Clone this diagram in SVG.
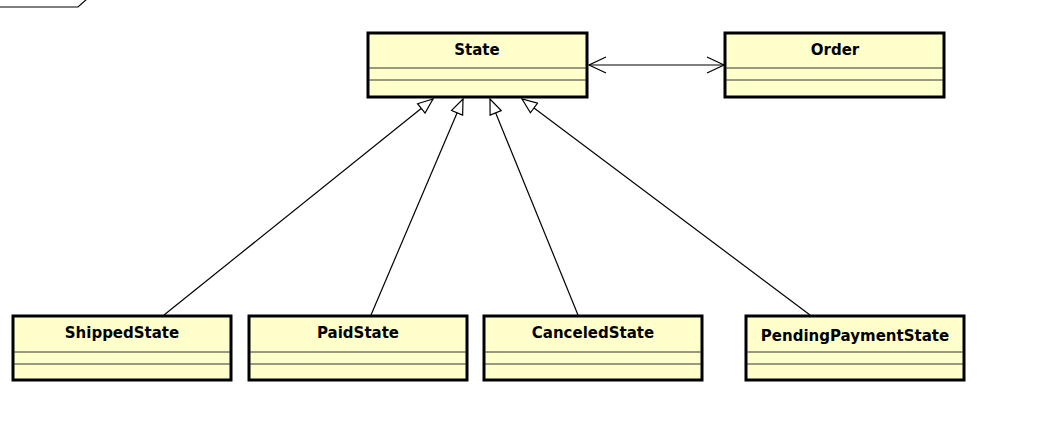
<svg xmlns="http://www.w3.org/2000/svg" width="1041" height="423" viewBox="0 0 1041 423">
<defs>
<style>
.box{fill:#FFFFCC;stroke:#000;stroke-width:3}
.sep{stroke:#333;stroke-width:1}
.lbl{font-family:"DejaVu Sans",Verdana,sans-serif;font-weight:bold;font-size:15px;text-anchor:middle;fill:#000}
.edge{stroke:#000;stroke-width:1.2;fill:none}
</style>
<marker id="tri" markerWidth="18" markerHeight="14" refX="16" refY="7" orient="auto" markerUnits="userSpaceOnUse">
<path d="M1,1 L16,7 L1,13 Z" fill="#fff" stroke="#000" stroke-width="1.2"/>
</marker>
<marker id="open" markerWidth="20" markerHeight="18" refX="18" refY="9" orient="auto" markerUnits="userSpaceOnUse">
<path d="M1,1 L18,9 L1,17" fill="none" stroke="#000" stroke-width="1.2"/>
</marker>
<marker id="openS" markerWidth="20" markerHeight="18" refX="2" refY="9" orient="auto" markerUnits="userSpaceOnUse">
<path d="M19,1 L2,9 L19,17" fill="none" stroke="#000" stroke-width="1.2"/>
</marker>
</defs>
<rect width="1041" height="423" fill="#fff"/>
<path d="M0,7 L78,7 L87,-1" fill="none" stroke="#000" stroke-width="1.2"/>
<g id="connectors">
<line class="edge" x1="164" y1="315" x2="433" y2="99" marker-end="url(#tri)"/>
<line class="edge" x1="371" y1="315" x2="463" y2="99" marker-end="url(#tri)"/>
<line class="edge" x1="578" y1="315" x2="490" y2="99" marker-end="url(#tri)"/>
<line class="edge" x1="810" y1="315" x2="522" y2="99" marker-end="url(#tri)"/>
<line class="edge" x1="589" y1="65" x2="724" y2="65" marker-start="url(#openS)" marker-end="url(#open)"/>
</g>
<g id="State">
<rect class="box" x="368" y="33" width="219" height="64"/>
<line class="sep" x1="369" y1="68" x2="586" y2="68"/>
<line class="sep" x1="369" y1="80" x2="586" y2="80"/>
<text class="lbl" x="477" y="55">State</text>
</g>
<g id="Order">
<rect class="box" x="725" y="33" width="219" height="64"/>
<line class="sep" x1="726" y1="68" x2="943" y2="68"/>
<line class="sep" x1="726" y1="80" x2="943" y2="80"/>
<text class="lbl" x="835" y="55">Order</text>
</g>
<g id="ShippedState">
<rect class="box" x="13" y="316" width="218" height="64"/>
<line class="sep" x1="14" y1="352" x2="230" y2="352"/>
<line class="sep" x1="14" y1="364" x2="230" y2="364"/>
<text class="lbl" x="122" y="338">ShippedState</text>
</g>
<g id="PaidState">
<rect class="box" x="249" y="316" width="218" height="64"/>
<line class="sep" x1="250" y1="352" x2="466" y2="352"/>
<line class="sep" x1="250" y1="364" x2="466" y2="364"/>
<text class="lbl" x="358" y="338">PaidState</text>
</g>
<g id="CanceledState">
<rect class="box" x="484" y="316" width="218" height="64"/>
<line class="sep" x1="485" y1="352" x2="701" y2="352"/>
<line class="sep" x1="485" y1="364" x2="701" y2="364"/>
<text class="lbl" x="593" y="338">CanceledState</text>
</g>
<g id="PendingPaymentState">
<rect class="box" x="746" y="316" width="218" height="64"/>
<line class="sep" x1="747" y1="352" x2="963" y2="352"/>
<line class="sep" x1="747" y1="364" x2="963" y2="364"/>
<text class="lbl" x="855" y="341">PendingPaymentState</text>
</g>
</svg>
